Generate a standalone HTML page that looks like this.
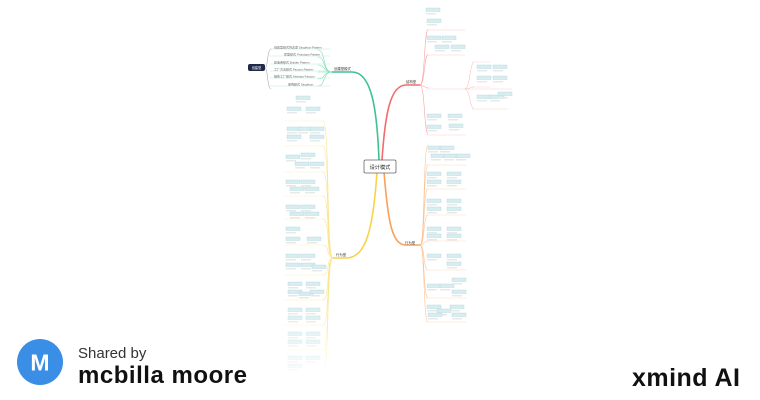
<!DOCTYPE html>
<html><head><meta charset="utf-8"><style>
html,body{margin:0;padding:0;background:#fff;width:760px;height:400px;overflow:hidden;font-family:"Liberation Sans","Noto Sans CJK SC",sans-serif}
</style></head><body>
<svg width="760" height="400" viewBox="0 0 760 400" xmlns="http://www.w3.org/2000/svg" style="position:absolute;left:0;top:0">
<defs>
<linearGradient id="fade" x1="0" y1="0" x2="0" y2="1">
<stop offset="0" stop-color="#fff" stop-opacity="0"/><stop offset="1" stop-color="#fff" stop-opacity="1"/>
</linearGradient>
<g id="box"><rect width="14" height="3.5" fill="#d8edef" stroke="#b0d8dc" stroke-width="0.4"/><rect y="5" width="10" height="1.5" fill="#e8e8e8"/></g>
</defs>
<g fill="none" stroke-linecap="round">
<path d="M379,160 C377,110 372,72 352,72 L332,72" stroke="#3cc38f" stroke-width="1.6"/>
<path d="M332,72 C322,72 326,50 318,50 M332,72 C322,72 326,57 318,57 M332,72 C322,72 326,65 318,65 M332,72 L318,72 M332,72 C322,72 326,79 318,79 M332,72 C322,72 326,86 318,86" stroke="#7fdcb6" stroke-width="0.6"/>
<path d="M270,49 H330 M270,56 H330 M270,64 H330 M270,71 H330 M270,78 H330 M270,86 H330" stroke="#bde9d6" stroke-width="0.6"/>
<path d="M271,49 C267,49 268,68 265,68 C268,68 267,89 271,89" stroke="#999" stroke-width="0.5"/>
<path d="M382,160 C385,115 390,85 406,85 L420,85" stroke="#f36b6b" stroke-width="1.6"/>
<path d="M420,85 C425,85 424,30 428,30 M420,85 C425,85 424,55 428,55 M420,85 L428,88 M420,85 C425,85 424,134 428,134" stroke="#f9a3a3" stroke-width="0.6"/>
<path d="M426,30 H465 M426,55 H465 M426,89 H512 M426,135 H465" stroke="#fcc9c9" stroke-width="0.6"/>
<path d="M465,89 C470,89 470,62 474,62 M465,89 C470,89 470,87 474,87 M465,89 C470,89 470,109 474,109" stroke="#f9b3b3" stroke-width="0.5"/>
<path d="M472,62 H490 M472,87 H490 M472,109 H508" stroke="#fcd0d0" stroke-width="0.5"/>
<path d="M384,172 C388,222 392,245 406,245 L420,245" stroke="#f8a15a" stroke-width="1.6"/>
<path d="M420,245 C425,245 423,165 428,165 M420,245 C425,245 423,189 428,189 M420,245 C425,245 423,215 428,215 M420,245 C425,245 423,241 428,241 M420,245 C425,245 423,270 428,270 M420,245 C425,245 423,298 428,298 M420,245 C425,245 423,322 428,322 M420,245 C425,245 423,145 428,145" stroke="#fbc497" stroke-width="0.6"/>
<path d="M426,165 H466 M426,189 H466 M426,215 H466 M426,241 H466 M426,270 H466 M426,298 H466 M426,322 H466" stroke="#fddcc0" stroke-width="0.6"/>
<path d="M377,172 C373,230 366,258 346,258 L333,258" stroke="#f8d24a" stroke-width="1.6"/>
<path d="M333,258 C326,258 330,121 323,121 M333,258 C326,258 330,146 323,146 M333,258 C326,258 330,172 323,172 M333,258 C326,258 330,196 323,196 M333,258 C326,258 330,219 323,219 M333,258 C326,258 330,245 323,245 M333,258 C326,258 330,275 323,275 M333,258 C326,258 330,300 323,300 M333,258 C326,258 330,325 323,325 M333,258 C326,258 330,350 323,350 M333,258 C326,258 330,370 323,370" stroke="#fbe48e" stroke-width="0.6"/>
<path d="M284,121 H325 M284,146 H325 M284,172 H325 M284,196 H325 M284,219 H325 M284,245 H325 M284,275 H325 M284,300 H325 M284,325 H325 M284,350 H325" stroke="#fdefbf" stroke-width="0.6"/>
</g>
<g>
<use href="#box" x="426" y="8"/><use href="#box" x="427" y="19"/>
<use href="#box" x="427" y="36"/><use href="#box" x="442" y="36"/><use href="#box" x="435" y="45"/><use href="#box" x="451" y="45"/>
<use href="#box" x="477" y="65"/><use href="#box" x="493" y="65"/><use href="#box" x="477" y="76"/><use href="#box" x="493" y="76"/>
<use href="#box" x="477" y="95"/><use href="#box" x="490" y="95"/><use href="#box" x="498" y="92"/>
<use href="#box" x="427" y="114"/><use href="#box" x="448" y="114"/><use href="#box" x="427" y="125"/><use href="#box" x="449" y="124"/>
<use href="#box" x="428" y="146"/><use href="#box" x="440" y="146"/><use href="#box" x="431" y="154"/><use href="#box" x="444" y="154"/><use href="#box" x="456" y="154"/>
<use href="#box" x="427" y="172"/><use href="#box" x="447" y="172"/><use href="#box" x="427" y="180"/><use href="#box" x="447" y="180"/>
<use href="#box" x="427" y="199"/><use href="#box" x="447" y="199"/><use href="#box" x="427" y="207"/><use href="#box" x="447" y="207"/>
<use href="#box" x="427" y="227"/><use href="#box" x="447" y="227"/><use href="#box" x="427" y="234"/><use href="#box" x="447" y="234"/>
<use href="#box" x="427" y="254"/><use href="#box" x="447" y="254"/><use href="#box" x="447" y="262"/>
<use href="#box" x="427" y="284"/><use href="#box" x="440" y="284"/><use href="#box" x="452" y="278"/><use href="#box" x="452" y="290"/>
<use href="#box" x="427" y="305"/><use href="#box" x="437" y="309"/><use href="#box" x="450" y="305"/><use href="#box" x="428" y="313"/><use href="#box" x="452" y="313"/>
<use href="#box" x="296" y="96"/><use href="#box" x="287" y="107"/><use href="#box" x="306" y="107"/>
<use href="#box" x="287" y="127"/><use href="#box" x="298" y="127"/><use href="#box" x="310" y="127"/><use href="#box" x="287" y="135"/><use href="#box" x="310" y="135"/>
<use href="#box" x="286" y="155"/><use href="#box" x="301" y="153"/><use href="#box" x="295" y="162"/><use href="#box" x="310" y="162"/>
<use href="#box" x="286" y="180"/><use href="#box" x="301" y="180"/><use href="#box" x="290" y="187"/><use href="#box" x="305" y="187"/>
<use href="#box" x="286" y="205"/><use href="#box" x="301" y="205"/><use href="#box" x="290" y="212"/><use href="#box" x="305" y="212"/>
<use href="#box" x="286" y="227"/><use href="#box" x="286" y="237"/><use href="#box" x="307" y="237"/>
<use href="#box" x="286" y="254"/><use href="#box" x="301" y="254"/><use href="#box" x="286" y="263"/><use href="#box" x="301" y="263"/><use href="#box" x="312" y="265"/>
<use href="#box" x="288" y="282"/><use href="#box" x="306" y="282"/><use href="#box" x="288" y="290"/><use href="#box" x="299" y="292"/><use href="#box" x="310" y="290"/>
<use href="#box" x="288" y="308"/><use href="#box" x="306" y="308"/><use href="#box" x="288" y="316"/><use href="#box" x="306" y="316"/>
<use href="#box" x="288" y="332"/><use href="#box" x="306" y="332"/><use href="#box" x="288" y="340"/><use href="#box" x="306" y="340"/>
<use href="#box" x="288" y="356"/><use href="#box" x="306" y="356"/><use href="#box" x="288" y="364"/>
</g>
<g font-size="3" fill="#666">
<text x="274" y="48.5">创建型模式列表项 Singleton Pattern</text><text x="284" y="55.5">原型模式 Prototype Pattern</text>
<text x="274" y="63.5">建造者模式 Builder Pattern</text><text x="274" y="70.5">工厂方法模式 Factory Pattern</text>
<text x="274" y="77.5">抽象工厂模式 Abstract Factory</text><text x="288" y="85.5">单例模式 Singleton</text>
</g>
<rect x="248" y="64" width="17" height="7" rx="2" fill="#1e2a48"/>
<text x="256.5" y="69" font-size="3.2" fill="#fff" text-anchor="middle">创建型</text>
<g font-size="3.4" fill="#333">
<text x="334" y="70">创建型模式</text><text x="406" y="83">结构型</text><text x="405" y="244">行为型</text><text x="336" y="256">行为型</text>
</g>
<rect x="364" y="160" width="32" height="13" rx="1.5" fill="#fff" stroke="#666" stroke-width="0.8"/>
<text x="380" y="169" font-size="5.2" fill="#222" text-anchor="middle">设计模式</text>
<rect x="260" y="300" width="90" height="90" fill="url(#fade)"/>
<circle cx="40" cy="362" r="23" fill="#3a8ee6"/>
<text x="40" y="370.5" font-size="23" font-weight="bold" fill="#fff" text-anchor="middle">M</text>
<text x="78" y="358" font-size="15" fill="#333">Shared by</text>
<text x="78" y="383" font-size="24" font-weight="bold" fill="#111" textLength="169">mcbilla moore</text>
<text x="632" y="386" font-size="25" font-weight="bold" fill="#111" textLength="108">xmind AI</text>
</svg>
</body></html>
